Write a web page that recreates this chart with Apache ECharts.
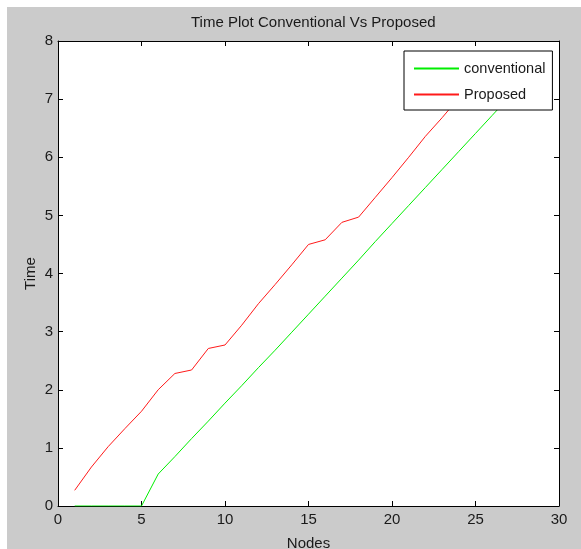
<!DOCTYPE html>
<html>
<head>
<meta charset="utf-8">
<script src="https://cdn.jsdelivr.net/npm/echarts@6/dist/echarts.min.js"></script>
<style>
html,body{margin:0;padding:0;background:#ffffff;}
#chart{position:absolute;left:0;top:0;width:581px;height:549px;}
</style>
</head>
<body>
<div id="chart"></div>
<script>
// Data
var nodes = [1,2,3,4,5,6,7,8,9,10,11,12,13,14,15,16,17,18,19,20,21,22,23,24,25,26,27,28,29];
var conventional = [0,0,0,0,0,0.55,0.85,1.16,1.46,1.77,2.07,2.38,2.68,2.99,3.30,3.61,3.92,4.23,4.55,4.86,5.17,5.48,5.79,6.10,6.41,6.72,7.03,7.34,7.64];
var proposed = [0.27,0.67,1.02,1.33,1.63,2.00,2.28,2.34,2.71,2.77,3.11,3.48,3.81,4.15,4.50,4.58,4.88,4.97,5.31,5.65,6.00,6.36,6.68,7.02,7.36,7.70];
var xTicks = [0,5,10,15,20,25,30];
var yTicks = [0,1,2,3,4,5,6,7,8];

var FONT = '"Liberation Sans",Arial,sans-serif';
var TXT = '#1a1a1a';

function pairs(xs, ys){ var out=[]; for (var i=0;i<ys.length;i++) out.push([xs[i], ys[i]]); return out; }

var chart = echarts.init(document.getElementById('chart'), null, {renderer:'canvas'});
var G = {left:58, top:41, width:501, height:465, containLabel:false, outerBoundsMode:'none'};
var tickStyle = {show:true, inside:true, length:5, lineStyle:{color:'#000', width:1}};
var option = {
  animation:false,
  backgroundColor:'#ffffff',
  graphic:[{type:'rect', z:-10, shape:{x:7,y:7,width:574,height:542}, style:{fill:'#cbcbcb'}},
           {type:'rect', z:-9, shape:{x:58,y:41,width:501,height:465}, style:{fill:'#ffffff'}}],
  title:{text:'Time Plot Conventional Vs Proposed', left:186, top:10,
    textStyle:{fontFamily:FONT, fontSize:15, fontWeight:'normal', color:TXT}},
  grid:G,
  legend:{orient:'vertical', left:404, top:51, padding:[10,7,8,9], itemGap:11,
    itemWidth:45, itemHeight:14, backgroundColor:'#ffffff', borderColor:'#000', borderWidth:1,
    itemStyle:{opacity:0},
    textStyle:{fontFamily:FONT, fontSize:14.5, color:TXT}, z:20,
    data:['conventional','Proposed']},
  xAxis:[
    {type:'value', min:0, max:30, interval:5, position:'bottom',
     name:'Nodes', nameLocation:'middle', nameGap:30, nameMoveOverlap:false,
     nameTextStyle:{fontFamily:FONT, fontSize:15, color:TXT},
     axisLine:{show:true, onZero:false, lineStyle:{color:'#000', width:1}},
     axisTick:tickStyle, splitLine:{show:false},
     axisLabel:{fontFamily:FONT, fontSize:15, color:TXT, margin:6,
       formatter:function(v){return xTicks.indexOf(v)>=0? String(v):'';}}},
    {type:'value', min:0, max:30, interval:5, position:'top',
     axisLine:{show:true, onZero:false, lineStyle:{color:'#000', width:1}},
     axisTick:tickStyle, splitLine:{show:false}, axisLabel:{show:false}}
  ],
  yAxis:[
    {type:'value', min:0, max:8, interval:1, position:'left',
     name:'Time', nameLocation:'middle', nameGap:20, nameMoveOverlap:false,
     nameTextStyle:{fontFamily:FONT, fontSize:15, color:TXT},
     axisLine:{show:true, onZero:false, lineStyle:{color:'#000', width:1}},
     axisTick:tickStyle, splitLine:{show:false},
     axisLabel:{fontFamily:FONT, fontSize:15, color:TXT, margin:5,
       formatter:function(v){return yTicks.indexOf(v)>=0? String(v):'';}}},
    {type:'value', min:0, max:8, interval:1, position:'right',
     axisLine:{show:true, onZero:false, lineStyle:{color:'#000', width:1}},
     axisTick:tickStyle, splitLine:{show:false}, axisLabel:{show:false}}
  ],
  series:[
    {name:'conventional', type:'line', xAxisIndex:0, yAxisIndex:0, symbol:'none', clip:true,
     lineStyle:{color:'#00ee00', width:1}, itemStyle:{color:'#00ee00'},
     data:pairs(nodes, conventional)},
    {name:'Proposed', type:'line', xAxisIndex:0, yAxisIndex:0, symbol:'none', clip:true,
     lineStyle:{color:'#ff1a1a', width:1}, itemStyle:{color:'#ff1a1a'},
     data:pairs(nodes, proposed)}
  ]
};
chart.setOption(option);
</script>
</body>
</html>
